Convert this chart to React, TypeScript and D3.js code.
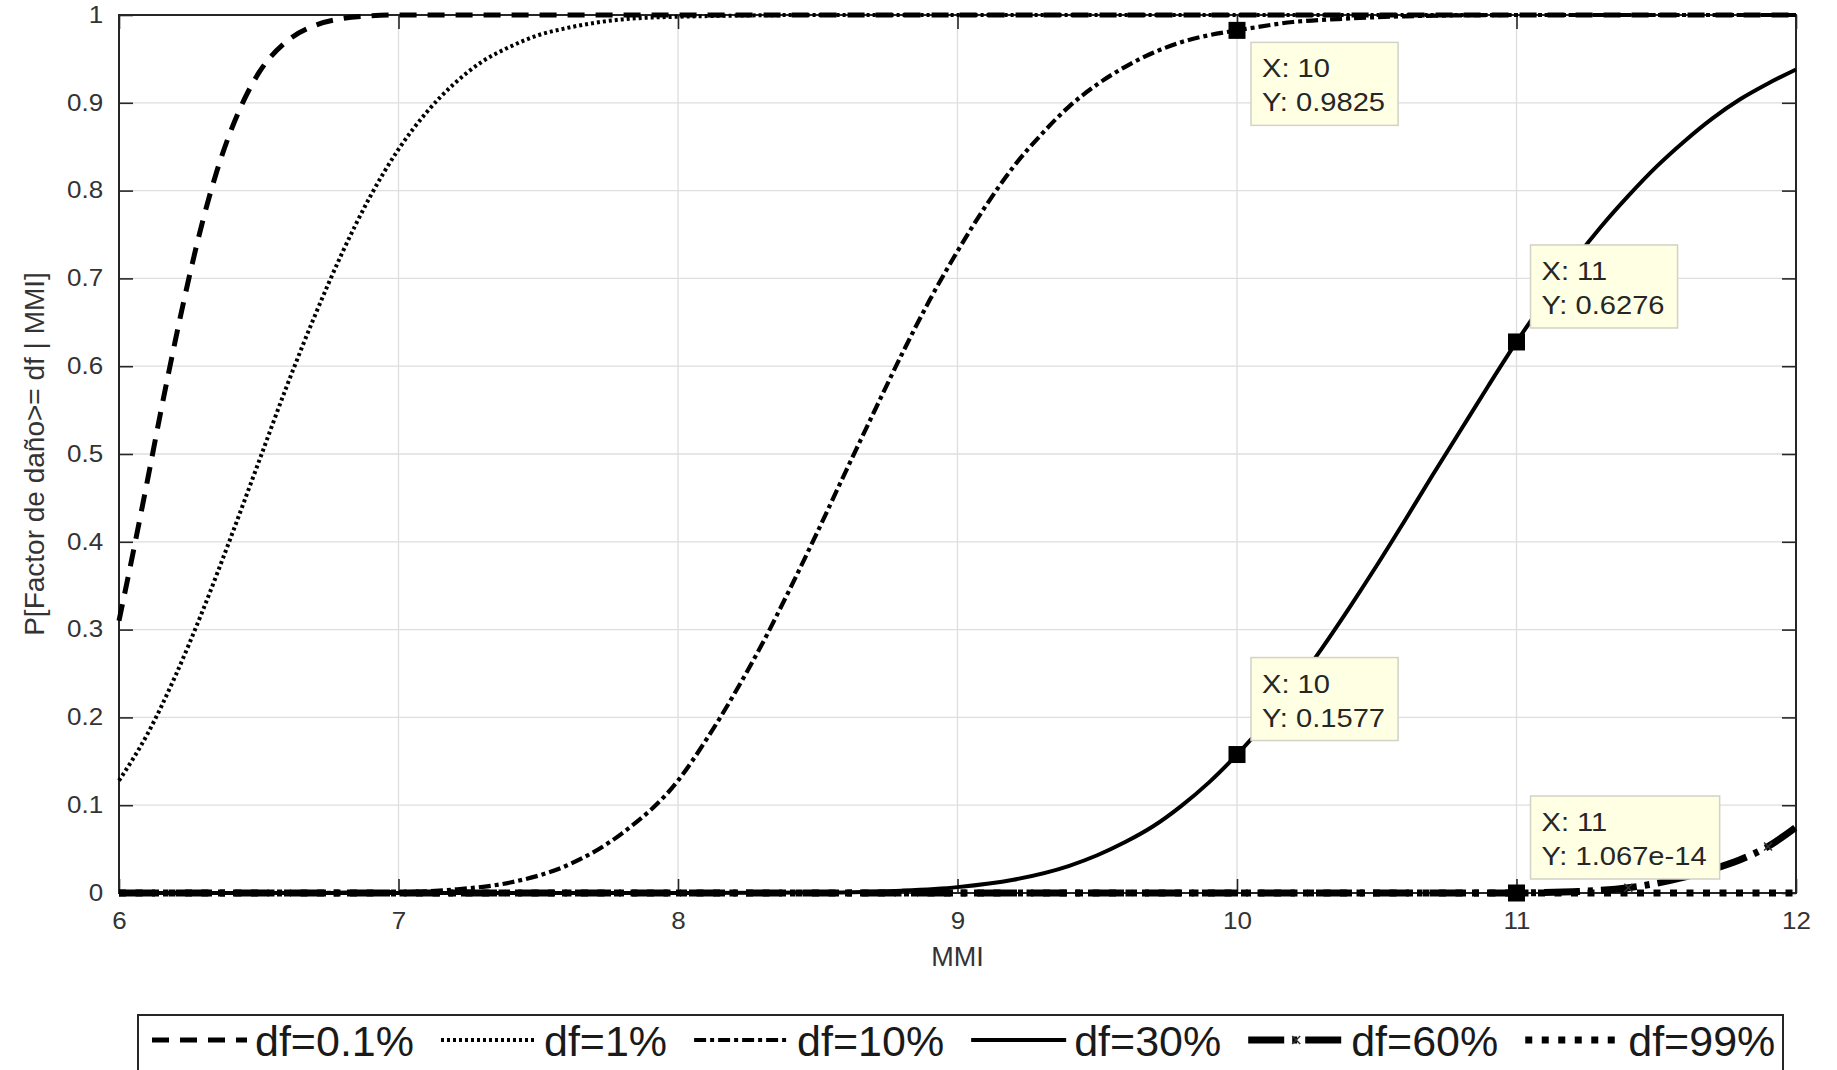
import React, { useEffect, useRef } from 'react';
import * as d3 from 'd3';

const W = 1837;
const H = 1070;
const FONT = "'Liberation Sans', Arial, Helvetica, sans-serif";

// curves: P[Factor de daño >= df | MMI]
const mmi01 = [6.0, 6.05, 6.1, 6.15, 6.2, 6.25, 6.3, 6.35, 6.4, 6.45, 6.5, 6.6, 6.7, 6.8, 6.9, 7.0, 8.0, 9.0, 10.0, 11.0, 12.0];
const p01 = [0.31, 0.387, 0.467, 0.549, 0.627, 0.7, 0.766, 0.822, 0.868, 0.905, 0.934, 0.97, 0.988, 0.996, 0.999, 1, 1, 1, 1, 1, 1];

const mmi1 = [6.0, 6.1, 6.2, 6.3, 6.4, 6.5, 6.6, 6.7, 6.8, 6.9, 7.0, 7.1, 7.2, 7.3, 7.4, 7.5, 7.6, 7.8, 8.0, 8.5, 9.0, 10.0, 11.0, 12.0];
const p1 = [0.128, 0.18, 0.246, 0.322, 0.405, 0.491, 0.577, 0.657, 0.73, 0.794, 0.847, 0.889, 0.922, 0.947, 0.964, 0.977, 0.985, 0.995, 0.998, 1, 1, 1, 1, 1];

const mmi10 = [6.0, 6.5, 7.0, 7.2, 7.4, 7.6, 7.8, 8.0, 8.1, 8.2, 8.3, 8.4, 8.5, 8.6, 8.7, 8.8, 8.9, 9.0, 9.1, 9.2, 9.3, 9.4, 9.5, 9.6, 9.7, 9.8, 9.9, 10.0, 10.2, 10.4, 10.6, 11.0, 12.0];
const p10 = [0, 0, 0.001, 0.004, 0.012, 0.031, 0.068, 0.128, 0.174, 0.226, 0.283, 0.346, 0.412, 0.48, 0.547, 0.613, 0.675, 0.731, 0.782, 0.827, 0.864, 0.896, 0.921, 0.941, 0.957, 0.969, 0.977, 0.9825, 0.992, 0.996, 0.9985, 1, 1];

const mmi30 = [6.0, 7.0, 8.0, 8.5, 8.8, 9.0, 9.2, 9.4, 9.5, 9.6, 9.7, 9.8, 9.9, 10.0, 10.1, 10.2, 10.3, 10.4, 10.5, 10.6, 10.7, 10.8, 10.9, 11.0, 11.1, 11.2, 11.3, 11.4, 11.5, 11.6, 11.7, 11.8, 11.9, 12.0];
const p30 = [0, 0, 0, 0.0005, 0.0027, 0.0067, 0.0151, 0.031, 0.043, 0.058, 0.076, 0.099, 0.126, 0.1577, 0.193, 0.233, 0.277, 0.324, 0.373, 0.424, 0.476, 0.527, 0.578, 0.6276, 0.674, 0.718, 0.758, 0.794, 0.827, 0.856, 0.882, 0.904, 0.922, 0.938];

const mmi60 = [6.0, 7.0, 8.0, 9.0, 10.0, 11.0, 11.1, 11.2, 11.3, 11.4, 11.5, 11.6, 11.7, 11.8, 11.9, 12.0];
const p60 = [0, 0, 0, 0, 0, 1.067e-14, 0.0005, 0.0015, 0.003, 0.006, 0.011, 0.018, 0.027, 0.038, 0.053, 0.075];
const marks60 = [11.4, 11.9];

const mmi99 = [6.0, 12.0];
const p99 = [0, 0];

const labels = ['df=0.1%', 'df=1%', 'df=10%', 'df=30%', 'df=60%', 'df=99%'];

// datatips
const tipX = [10, 11, 10, 11];
const tipY = [0.9825, 0.6276, 0.1577, 1.067e-14];
const tipText = ['0.9825', '0.6276', '0.1577', '1.067e-14'];
const tipBelow = [true, false, false, false];

const xTicks = [6, 7, 8, 9, 10, 11, 12];
const yTicks = [0, 0.1, 0.2, 0.3, 0.4, 0.5, 0.6, 0.7, 0.8, 0.9, 1];

const styles = [
  { width: 5, dash: '17 11' },
  { width: 4, dash: '3 3' },
  { width: 4.2, dash: '12 4 4 4' },
  { width: 4, dash: null },
  { width: 7, dash: '36 8 5 8' },
  { width: 7, dash: '7 9.5' },
];

const App = () => {
  const svgRef = useRef<SVGSVGElement>(null);

  useEffect(() => {
    const margin = { left: 119, right: W - 1796, top: 15, bottom: H - 893 };
    const x = d3.scaleLinear().domain([6, 12]).range([margin.left, W - margin.right]);
    const y = d3.scaleLinear().domain([0, 1]).range([H - margin.bottom, margin.top]);

    const svg = d3.select(svgRef.current);
    svg.selectAll('*').remove();

    // grid
    const grid = svg.append('g').attr('stroke', '#dedede').attr('stroke-width', 1.3);
    grid.selectAll('line.v').data(xTicks).join('line')
      .attr('x1', d => x(d)).attr('x2', d => x(d))
      .attr('y1', y(0)).attr('y2', y(1));
    grid.selectAll('line.h').data(yTicks).join('line')
      .attr('y1', d => y(d)).attr('y2', d => y(d))
      .attr('x1', x(6)).attr('x2', x(12));

    // axes with inward ticks
    const styleAxis = (g: any) => {
      g.select('.domain').remove();
      g.selectAll('.tick line').attr('stroke', '#262626').attr('stroke-width', 1.6);
      g.selectAll('.tick text')
        .attr('fill', '#333')
        .style('font-family', FONT)
        .style('font-size', '23px')
        .attr('transform', 'scale(1.13,1)');
    };
    svg.append('g').attr('transform', `translate(${x(6)},0)`)
      .call(d3.axisLeft(y).tickValues(yTicks).tickSize(-14).tickPadding(14).tickFormat(d3.format('~g')))
      .call(styleAxis);
    svg.append('g').attr('transform', `translate(${x(12)},0)`)
      .call(d3.axisRight(y).tickValues(yTicks).tickSize(-14).tickFormat(() => ''))
      .call(styleAxis);
    svg.append('g').attr('transform', `translate(0,${y(0)})`)
      .call(d3.axisBottom(x).tickValues(xTicks).tickSize(-14).tickPadding(20).tickFormat(d3.format('d')))
      .call(styleAxis);
    svg.append('g').attr('transform', `translate(0,${y(1)})`)
      .call(d3.axisTop(x).tickValues(xTicks).tickSize(-14).tickFormat(() => ''))
      .call(styleAxis);

    svg.append('rect')
      .attr('x', x(6)).attr('y', y(1))
      .attr('width', x(12) - x(6)).attr('height', y(0) - y(1))
      .attr('fill', 'none').attr('stroke', '#262626').attr('stroke-width', 2);

    // axis titles
    svg.append('text')
      .attr('x', (x(6) + x(12)) / 2).attr('y', 966)
      .attr('text-anchor', 'middle')
      .style('font-family', FONT).style('font-size', '27px').attr('fill', '#333')
      .text('MMI');
    svg.append('text')
      .attr('transform', `translate(44,${(y(0) + y(1)) / 2}) rotate(-90)`)
      .attr('text-anchor', 'middle')
      .style('font-family', FONT).style('font-size', '28px').attr('fill', '#333')
      .text('P[Factor de daño>= df | MMI]');

    // curves
    const series = [
      [mmi01, p01], [mmi1, p1], [mmi10, p10], [mmi30, p30], [mmi60, p60], [mmi99, p99],
    ];
    const line = d3.line<[number, number]>()
      .x(d => x(d[0])).y(d => y(d[1]))
      .curve(d3.curveMonotoneX);

    series.forEach(([xs, ys], i) => {
      const pts = xs.map((v, j) => [v, ys[j]] as [number, number]);
      const path = svg.append('path')
        .attr('d', line(pts))
        .attr('fill', 'none')
        .attr('stroke', '#000')
        .attr('stroke-width', styles[i].width);
      if (styles[i].dash) path.attr('stroke-dasharray', styles[i].dash);
    });

    // x markers of df=60%
    const xMark = (g: any, cx: number, cy: number) => {
      g.append('path')
        .attr('d', `M${cx - 4},${cy - 4}L${cx + 4},${cy + 4}M${cx - 4},${cy + 4}L${cx + 4},${cy - 4}`)
        .attr('stroke', '#333').attr('stroke-width', 1.5);
    };
    marks60.forEach(m => {
      const j = mmi60.indexOf(m);
      xMark(svg, x(m), y(p60[j]));
    });

    // datatips
    tipX.forEach((tx, i) => {
      const cx = x(tx);
      const cy = y(tipY[i]);
      svg.append('rect')
        .attr('x', cx - 8.5).attr('y', cy - 8.5)
        .attr('width', 17).attr('height', 17)
        .attr('fill', '#000');

      const g = svg.append('g');
      const tg = g.append('g');
      tg.append('text').attr('x', 0).attr('y', 35).text(`X: ${tx}`);
      tg.append('text').attr('x', 0).attr('y', 69).text(`Y: ${tipText[i]}`);
      tg.selectAll('text')
        .style('font-family', FONT).style('font-size', '26px').attr('fill', '#262626');
      const bb = (tg.node() as SVGGElement).getBBox();
      const bw = bb.width * 1.12 + 24;
      const bh = 83;
      const left = cx + 14;
      const top = tipBelow[i] ? cy + 12 : cy - 14 - bh;
      g.insert('rect', ':first-child')
        .attr('x', left).attr('y', top)
        .attr('width', bw).attr('height', bh)
        .attr('fill', '#ffffe3').attr('stroke', '#d2d2c8').attr('stroke-width', 1.5);
      tg.attr('transform', `translate(${left + 11},${top}) scale(1.12,1)`);
    });

    // legend
    const legY = 1040;
    const leg = svg.append('g');
    leg.append('rect')
      .attr('x', 138).attr('y', 1015)
      .attr('width', 1783 - 138).attr('height', 90)
      .attr('fill', '#fff').attr('stroke', '#262626').attr('stroke-width', 2);
    let cursor = 152;
    const sampleW = 95;
    labels.forEach((lab, i) => {
      const s = leg.append('line')
        .attr('x1', cursor).attr('x2', cursor + sampleW)
        .attr('y1', legY).attr('y2', legY)
        .attr('stroke', '#000').attr('stroke-width', styles[i].width);
      if (styles[i].dash) s.attr('stroke-dasharray', styles[i].dash);
      if (i === 4) xMark(leg, cursor + 48, legY);
      const t = leg.append('text')
        .attr('x', cursor + sampleW + 8).attr('y', 1056)
        .style('font-family', FONT).style('font-size', '43px').attr('fill', '#1a1a1a')
        .text(lab);
      const tw = (t.node() as SVGTextElement).getComputedTextLength();
      cursor += sampleW + 8 + tw + 27;
    });
  }, []);

  return (
    <svg
      ref={svgRef}
      width={W}
      height={H}
      style={{ position: 'absolute', left: 0, top: 0, background: '#fff' }}
    />
  );
};

export default App;
